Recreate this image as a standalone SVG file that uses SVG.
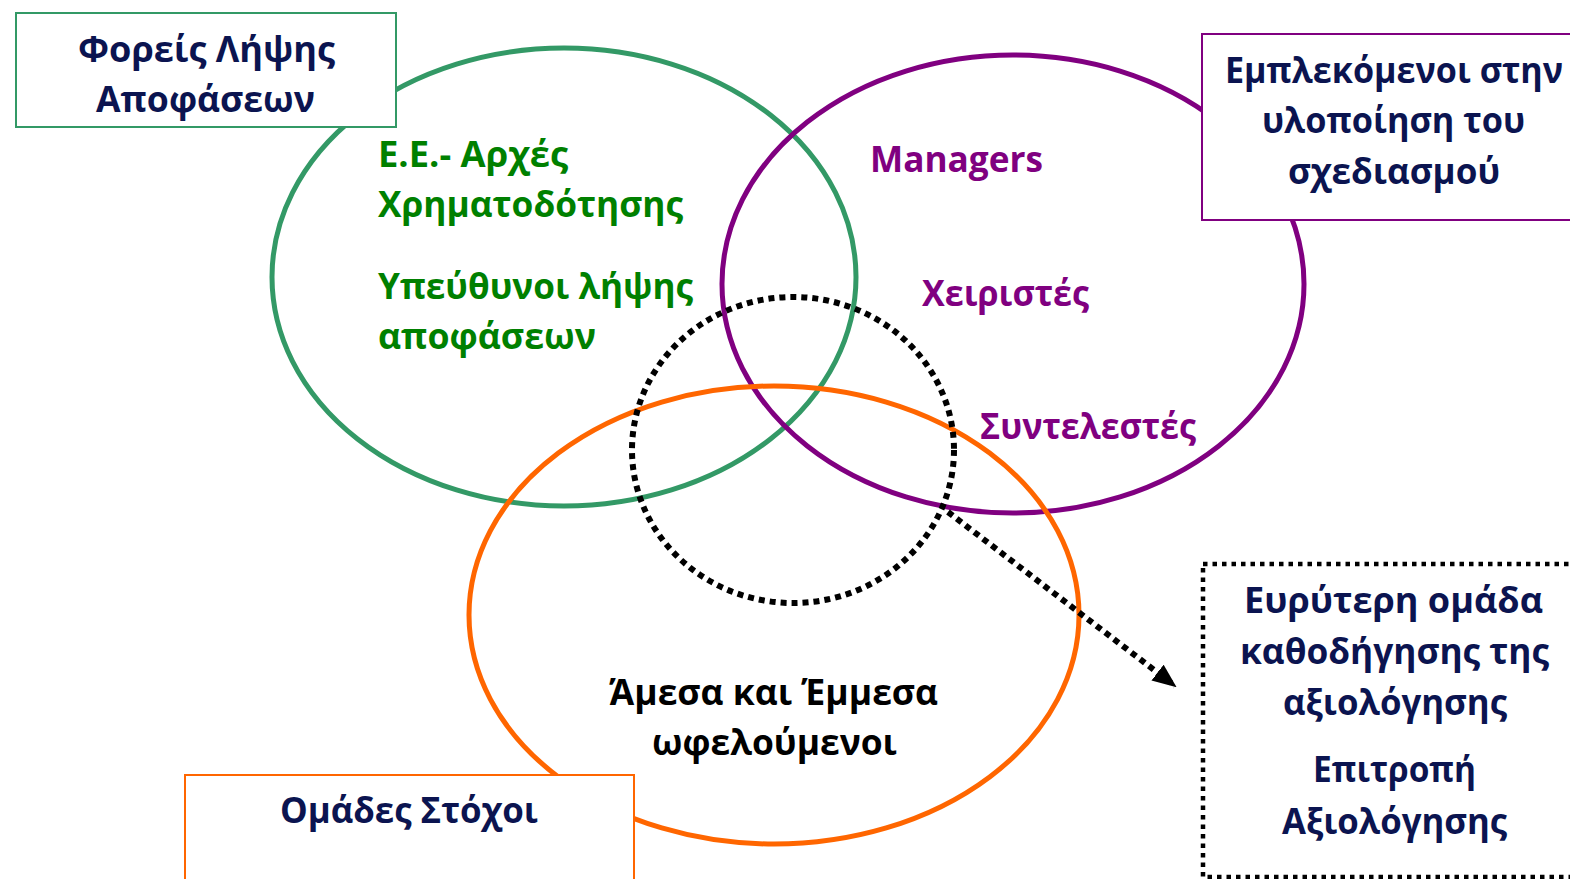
<svg xmlns="http://www.w3.org/2000/svg" width="1570" height="879" viewBox="0 0 1570 879">
<style>
.t{font-family:"Open Sans","Noto Sans","DejaVu Sans",sans-serif;font-weight:700;font-size:35px}
.navy{fill:#0b1450}
.grn{fill:#008000}
.pur{fill:#800080}
.blk{fill:#000000}
.ell{fill:none;stroke-width:5}
.box{fill:#ffffff;stroke-width:2}
.dot{fill:none;stroke:#000000;stroke-width:6;stroke-dasharray:6 5}
</style>
<defs>
<marker id="ah" markerUnits="userSpaceOnUse" markerWidth="24" markerHeight="20" refX="22" refY="10" orient="auto">
<path d="M0,0 L24,10 L0,20 z" fill="#000000"/>
</marker>
</defs>
<rect width="1570" height="879" fill="#ffffff"/>
<g id="ellipse-green"><ellipse class="ell" cx="564" cy="277" rx="292" ry="229" stroke="#339966"/></g>
<g id="ellipse-purple"><ellipse class="ell" cx="1013" cy="284" rx="291" ry="229" stroke="#800080"/></g>
<g id="ellipse-orange"><ellipse class="ell" cx="774" cy="615" rx="305" ry="229" stroke="#ff6600"/></g>
<g id="dotted-circle"><ellipse class="dot" cx="793" cy="450" rx="161" ry="153"/></g>
<g id="connectors">
<line x1="948" y1="512" x2="1175" y2="686" stroke="#000000" stroke-width="6" stroke-dasharray="6 5" marker-end="url(#ah)"/>
</g>
<g id="box-decision">
<rect class="box" x="16" y="13" width="380" height="114" stroke="#339966"/>
<text class="t navy" x="78" y="62" textLength="257" lengthAdjust="spacingAndGlyphs">Φορείς Λήψης</text>
<text class="t navy" x="96" y="112" textLength="219" lengthAdjust="spacingAndGlyphs">Αποφάσεων</text>
</g>
<g id="box-implementation">
<rect class="box" x="1202" y="34" width="380" height="186" stroke="#800080"/>
<text class="t navy" x="1225" y="83" textLength="338" lengthAdjust="spacingAndGlyphs">Εμπλεκόμενοι στην</text>
<text class="t navy" x="1262" y="133" textLength="263" lengthAdjust="spacingAndGlyphs">υλοποίηση του</text>
<text class="t navy" x="1288" y="184" textLength="212" lengthAdjust="spacingAndGlyphs">σχεδιασμού</text>
</g>
<g id="box-targets">
<rect class="box" x="185" y="775" width="449" height="120" stroke="#ff6600"/>
<text class="t navy" x="280" y="823" textLength="258" lengthAdjust="spacingAndGlyphs">Ομάδες Στόχοι</text>
</g>
<g id="box-steering">
<rect x="1203" y="564" width="380" height="313" fill="#ffffff" stroke="#000000" stroke-width="4.5" stroke-dasharray="4.5 5"/>
<text class="t navy" x="1244" y="613" textLength="299" lengthAdjust="spacingAndGlyphs">Ευρύτερη ομάδα</text>
<text class="t navy" x="1240" y="664" textLength="309" lengthAdjust="spacingAndGlyphs">καθοδήγησης της</text>
<text class="t navy" x="1283" y="715" textLength="224" lengthAdjust="spacingAndGlyphs">αξιολόγησης</text>
<text class="t navy" x="1313" y="782" textLength="163" lengthAdjust="spacingAndGlyphs">Επιτροπή</text>
<text class="t navy" x="1282" y="834" textLength="225" lengthAdjust="spacingAndGlyphs">Αξιολόγησης</text>
</g>
<g id="green-labels">
<text class="t grn" x="378" y="167" textLength="190" lengthAdjust="spacingAndGlyphs">Ε.Ε.- Αρχές</text>
<text class="t grn" x="378" y="217" textLength="305" lengthAdjust="spacingAndGlyphs">Χρηματοδότησης</text>
<text class="t grn" x="378" y="299" textLength="315" lengthAdjust="spacingAndGlyphs">Υπεύθυνοι λήψης</text>
<text class="t grn" x="378" y="349" textLength="218" lengthAdjust="spacingAndGlyphs">αποφάσεων</text>
</g>
<g id="purple-labels">
<text class="t pur" x="870" y="172" textLength="173" lengthAdjust="spacingAndGlyphs">Managers</text>
<text class="t pur" x="922" y="306" textLength="167" lengthAdjust="spacingAndGlyphs">Χειριστές</text>
<text class="t pur" x="980" y="439" textLength="216" lengthAdjust="spacingAndGlyphs">Συντελεστές</text>
</g>
<g id="beneficiaries">
<text class="t blk" x="609" y="705" textLength="329" lengthAdjust="spacingAndGlyphs">Άμεσα και Έμμεσα</text>
<text class="t blk" x="652" y="755" textLength="245" lengthAdjust="spacingAndGlyphs">ωφελούμενοι</text>
</g>
</svg>
